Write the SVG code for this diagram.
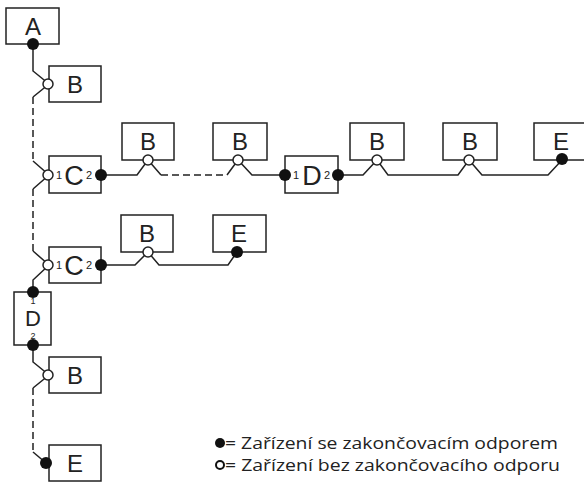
<svg xmlns="http://www.w3.org/2000/svg" width="584" height="482" viewBox="0 0 584 482">
<style>
.box{fill:#fff;stroke:#222;stroke-width:1.5}
.ln{fill:none;stroke:#222;stroke-width:1.5}
.dash{fill:none;stroke:#222;stroke-width:1.5;stroke-dasharray:7 4}
.fd{fill:#111}
.od{fill:#fff;stroke:#222;stroke-width:1.5}
.lb{font-family:"Liberation Sans",Arial,sans-serif;font-size:24px;fill:#222;text-anchor:middle}
.big{font-family:"Liberation Sans",Arial,sans-serif;font-size:27px;fill:#222;text-anchor:middle}
.sm{font-family:"Liberation Sans",Arial,sans-serif;font-size:11px;fill:#222;text-anchor:middle}
.lg{font-family:"Open Sans","Liberation Sans",sans-serif;font-size:17px;fill:#222}
</style>
<rect width="584" height="482" fill="#fff"/>
<g id="connectors">
<polyline class="ln" points="33,44 33,71 49,84 33,97"/>
<line class="dash" x1="33" y1="97" x2="33" y2="161"/>
<polyline class="ln" points="33,161 49,175 33,189"/>
<line class="dash" x1="33" y1="189" x2="33" y2="251"/>
<polyline class="ln" points="33,251 49,265 33,280 33,292"/>
<polyline class="ln" points="33,345 33,362 49,375 33,388"/>
<line class="dash" x1="33" y1="388" x2="33" y2="452"/>
<polyline class="ln" points="33,452 46,463"/>
<polyline class="ln" points="101,175 137,175 148,160 161,175"/>
<line class="dash" x1="161" y1="175" x2="227" y2="175"/>
<polyline class="ln" points="227,175 238,160 252,175 285,175"/>
<polyline class="ln" points="338,175 363,175 377,160 388,175 458,175 469,160 482,175 548,175 562,160"/>
<polyline class="ln" points="101,265 135,265 148,252 159,265 228,265 237,252"/>
</g>
<g id="A"><rect class="box" x="6" y="8" width="53" height="36"/><text class="lb" x="33" y="35">A</text><circle class="fd" cx="33" cy="44" r="6"/></g>
<g id="B1"><rect class="box" x="49" y="66" width="52" height="36"/><text class="lb" x="75" y="93">B</text><circle class="od" cx="48" cy="84" r="5"/></g>
<g id="C1"><rect class="box" x="49" y="156" width="52" height="37"/><text class="sm" x="59" y="179">1</text><text class="big" x="74" y="185">C</text><text class="sm" x="89" y="179">2</text><circle class="od" cx="48" cy="175" r="5"/><circle class="fd" cx="101" cy="175" r="6"/></g>
<g id="B2"><rect class="box" x="122" y="123" width="52" height="37"/><text class="lb" x="148" y="150">B</text><circle class="od" cx="148" cy="160" r="5"/></g>
<g id="B3"><rect class="box" x="213" y="123" width="54" height="37"/><text class="lb" x="240" y="150">B</text><circle class="od" cx="238" cy="160" r="5"/></g>
<g id="D1"><rect class="box" x="285" y="156" width="53" height="37"/><text class="sm" x="296" y="179">1</text><text class="big" x="312" y="185">D</text><text class="sm" x="327" y="179">2</text><circle class="fd" cx="285" cy="175" r="6"/><circle class="fd" cx="338" cy="175" r="6"/></g>
<g id="B4"><rect class="box" x="350" y="123" width="54" height="37"/><text class="lb" x="377" y="150">B</text><circle class="od" cx="377" cy="160" r="5"/></g>
<g id="B5"><rect class="box" x="443" y="123" width="54" height="37"/><text class="lb" x="470" y="150">B</text><circle class="od" cx="469" cy="160" r="5"/></g>
<g id="E1"><rect class="box" x="534" y="123" width="56" height="37"/><text class="lb" x="561" y="150">E</text><circle class="fd" cx="562" cy="159" r="6"/></g>
<g id="C2"><rect class="box" x="49" y="247" width="52" height="36"/><text class="sm" x="59" y="269">1</text><text class="big" x="74" y="275">C</text><text class="sm" x="89" y="269">2</text><circle class="od" cx="48" cy="265" r="5"/><circle class="fd" cx="101" cy="265" r="6"/></g>
<g id="B6"><rect class="box" x="121" y="215" width="52" height="37"/><text class="lb" x="147" y="242">B</text><circle class="od" cx="148" cy="252" r="5"/></g>
<g id="E2"><rect class="box" x="213" y="215" width="53" height="37"/><text class="lb" x="239" y="242">E</text><circle class="fd" cx="237" cy="252" r="6"/></g>
<g id="D2"><rect class="box" x="14" y="292" width="37" height="53"/><circle class="fd" cx="33" cy="292" r="6"/><circle class="fd" cx="33" cy="345" r="6"/><text class="sm" x="33" y="304" style="font-size:9px">1</text><text class="big" x="33" y="326" style="font-size:22px">D</text><text class="sm" x="33" y="339" style="font-size:9px">2</text></g>
<g id="B7"><rect class="box" x="49" y="357" width="52" height="36"/><text class="lb" x="75" y="384">B</text><circle class="od" cx="48" cy="375" r="5"/></g>
<g id="E3"><rect class="box" x="49" y="445" width="52" height="36"/><text class="lb" x="75" y="472">E</text><circle class="fd" cx="46" cy="463" r="6"/></g>
<g id="legend">
<circle class="fd" cx="220" cy="443" r="5"/>
<text class="lg" x="225" y="449" textLength="333" lengthAdjust="spacingAndGlyphs">= Zařízení se zakončovacím odporem</text>
<circle cx="220" cy="465" r="4" fill="#fff" stroke="#111" stroke-width="2"/>
<text class="lg" x="225" y="471" textLength="335" lengthAdjust="spacingAndGlyphs">= Zařízení bez zakončovacího odporu</text>
</g>
</svg>
